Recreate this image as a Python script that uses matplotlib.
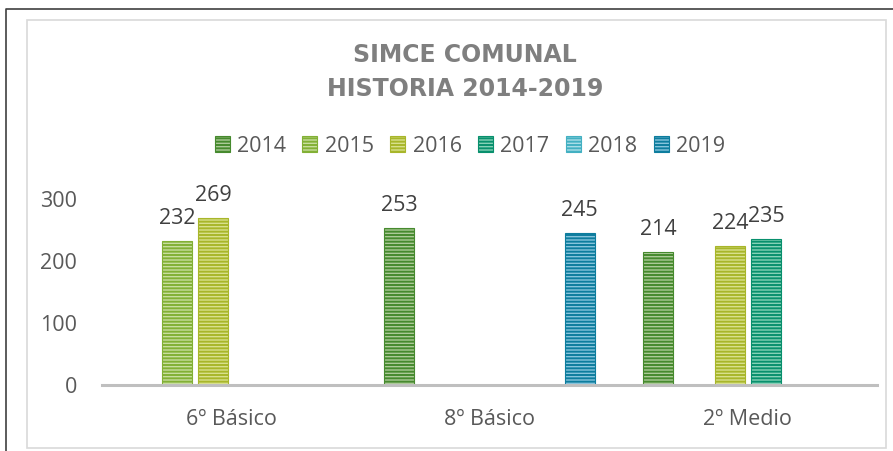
import numpy as np
import matplotlib
matplotlib.use("Agg")
import matplotlib.pyplot as plt
from matplotlib.patches import Patch, Rectangle
from matplotlib.lines import Line2D

plt.rcParams['font.family'] = ['Open Sans', 'DejaVu Sans']
plt.rcParams['hatch.linewidth'] = 1.4

categories = ['6º Básico', '8º Básico', '2º Medio']
years = ['2014', '2015', '2016', '2017', '2018', '2019']
# values per year, None = no data
values = {
    '2014': [None, 253, 214],
    '2015': [232, None, None],
    '2016': [269, None, 224],
    '2017': [None, None, 235],
    '2018': [None, None, None],
    '2019': [None, 245, None],
}
dark = ['#468a2e', '#82b035', '#a8b62a', '#08906d', '#43b0c2', '#0d7d9e']
light = ['#acca98', '#c8de9f', '#d8e08c', '#86d1b7', '#a9dde7', '#86c4dc']

W, H = 893, 451
fig = plt.figure(figsize=(W / 100, H / 100), dpi=100)
ax = fig.add_axes([102 / W, (H - 385) / H, 775 / W, 186 / H])

x = np.arange(len(categories))
step = 36 / 258.3
width = 30 / 258.3
for i, yr in enumerate(years):
    vals = values[yr]
    xs = [x[j] + (i - 2.5) * step for j, v in enumerate(vals) if v is not None]
    vs = [v for v in vals if v is not None]
    if not vs:
        continue
    bars = ax.bar(xs, vs, width, color=light[i], edgecolor=dark[i],
                  hatch='-----', linewidth=0.8)
    for b, v in zip(bars, vs):
        ax.annotate(str(v), (b.get_x() + b.get_width() / 2, v),
                    xytext=(0, 9), textcoords='offset points',
                    ha='center', va='bottom', fontsize=15.5, color='#404040',
                    annotation_clip=False)

ax.set_xlim(-0.5, 2.5)
ax.set_ylim(0, 300)
ax.set_yticks([0, 100, 200, 300])
ax.set_xticks(x)
ax.set_xticklabels(categories)
ax.tick_params(axis='both', length=0, labelsize=15.5, colors='#595959')
ax.tick_params(axis='y', pad=18)
ax.tick_params(axis='x', pad=17)
for s in ['top', 'right', 'left']:
    ax.spines[s].set_visible(False)
ax.spines['bottom'].set_color('#bfbfbf')
ax.spines['bottom'].set_linewidth(2.2)

# title
title_font = dict(ha='center', va='center', fontsize=17, fontweight='bold',
                  color='#7f7f7f', family=['DejaVu Sans'])
fig.text(465 / W, 1 - 55 / H, 'SIMCE COMUNAL', **title_font)
fig.text(465 / W, 1 - 89 / H, 'HISTORIA 2014-2019', **title_font)

# legend
handles = [Patch(facecolor=light[i], edgecolor=dark[i], hatch='-----',
                 linewidth=0.8, label=yr) for i, yr in enumerate(years)]
fig.legend(handles=handles, loc='center', bbox_to_anchor=(470 / W, 1 - 146 / H),
           ncol=6, frameon=False, fontsize=15.5, labelcolor='#595959',
           handlelength=0.7, handleheight=0.7, handletextpad=0.35,
           columnspacing=0.75)

# chart frames
fig.add_artist(Rectangle((27 / W, 1 - 448 / H), (886 - 27) / W, (448 - 20) / H,
                         transform=fig.transFigure, fill=False,
                         edgecolor='#d9d9d9', linewidth=1.2))
fig.add_artist(Line2D([6 / W, 6 / W, 1], [0, 1 - 9 / H, 1 - 9 / H],
                      transform=fig.transFigure, color='#404040', linewidth=1.2))

fig.savefig('out.png', dpi=100)
